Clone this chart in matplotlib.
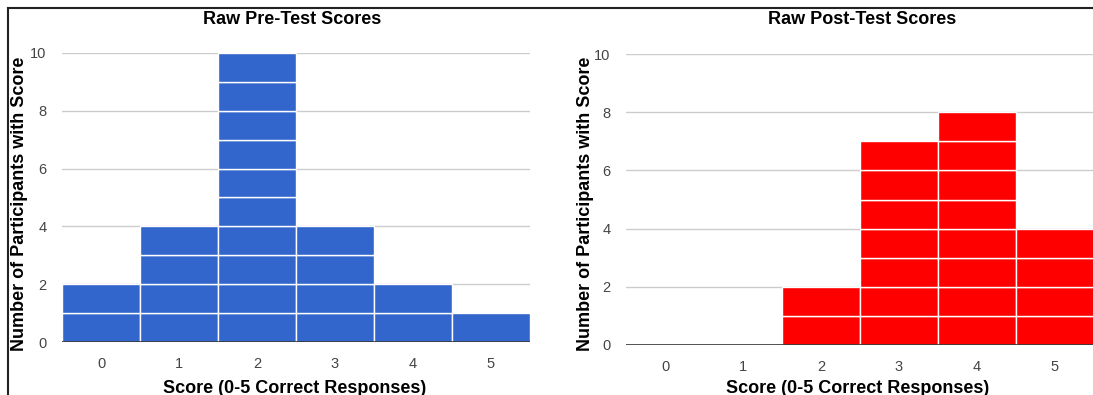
import matplotlib
matplotlib.use("Agg")
import matplotlib.pyplot as plt
from matplotlib.lines import Line2D

# Score categories and participant counts per score
scores = [0, 1, 2, 3, 4, 5]
score_labels = ["0", "1", "2", "3", "4", "5"]
pre_counts = [2, 4, 10, 4, 2, 1]
post_counts = [0, 0, 2, 7, 8, 4]
y_ticks = [0, 2, 4, 6, 8, 10]

pre_title = "Raw Pre-Test Scores"
post_title = "Raw Post-Test Scores"
x_title = "Score (0-5 Correct Responses)"
y_title = "Number of Participants with Score"

plt.rcParams["font.family"] = ["Liberation Sans", "DejaVu Sans"]

W, H = 1093, 395
fig = plt.figure(figsize=(W / 100, H / 100), dpi=100)


def px_axes(x0, x1, y_top, y_bottom):
    return fig.add_axes([x0 / W, 1 - y_bottom / H, (x1 - x0) / W, (y_bottom - y_top) / H])


def fig_text(x, y, s, **kw):
    # place text using pixel coordinates measured from the top-left corner
    fig.text(x / W, 1 - y / H, s, fontsize=13, fontweight="bold", color="black", **kw)


def draw_hist(ax, counts, color):
    # each participant is one unit block stacked in its score column
    for s, c in zip(scores, counts):
        for k in range(c):
            ax.bar(s, 1, bottom=k, width=1.0, color=color,
                   edgecolor="white", linewidth=1.0, zorder=2)
    ax.set_xlim(-0.5, 5.5)
    ax.set_ylim(0, 10)
    ax.set_yticks(y_ticks)
    ax.set_xticks(scores)
    ax.set_xticklabels(score_labels)
    for y in y_ticks[1:]:
        ax.axhline(y, color="#cccccc", linewidth=1.0, zorder=1)
    ax.axhline(0, color="#333333", linewidth=1.2, zorder=3)
    for sp in ax.spines.values():
        sp.set_visible(False)
    ax.tick_params(axis="both", length=0, labelsize=10.5, colors="#444444")
    ax.tick_params(axis="y", pad=11)
    ax.tick_params(axis="x", pad=11)


ax1 = px_axes(62, 530, 53, 342)
ax2 = px_axes(626, 1094, 54, 345)
draw_hist(ax1, pre_counts, "#3366cc")
draw_hist(ax2, post_counts, "#ff0000")

# panel titles and axis titles
fig_text(292, 24, pre_title, ha="center", va="baseline")
fig_text(862, 24, post_title, ha="center", va="baseline")
fig_text(295, 393, x_title, ha="center", va="baseline")
fig_text(858, 393, x_title, ha="center", va="baseline")
fig_text(20, 204, y_title, ha="center", va="center", rotation=90)
fig_text(585, 204, y_title, ha="center", va="center", rotation=90)

# frame lines along the top and left edges
fig.add_artist(Line2D([8 / W, 1.0], [1 - 8 / H, 1 - 8 / H], transform=fig.transFigure,
                      color="#222222", linewidth=1.5))
fig.add_artist(Line2D([8 / W, 8 / W], [0, 1 - 8 / H], transform=fig.transFigure,
                      color="#222222", linewidth=1.5))

fig.savefig("out.png", dpi=100)
